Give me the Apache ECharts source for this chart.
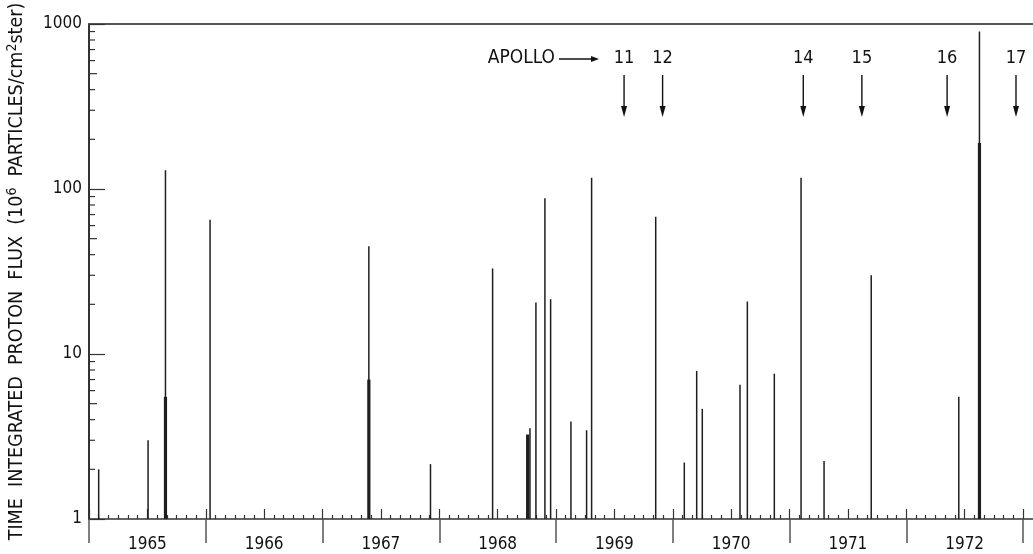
<!DOCTYPE html>
<html>
<head>
<meta charset="utf-8">
<title>Time integrated proton flux</title>
<script src="https://cdn.jsdelivr.net/npm/echarts@6/dist/echarts.min.js"></script>
<style>
  html, body { margin: 0; padding: 0; background: #fff; }
  #chart { width: 1033px; height: 554px; }
</style>
</head>
<body>
<div id="chart"></div>
<script>
// single proton events (decimal year, flux in 10^6 particles/cm2 ster)
var eventDates = [1965.083, 1965.506, 1965.655, 1966.037, 1967.397, 1967.925, 1968.457,
  1968.777, 1968.828, 1968.905, 1968.954, 1969.128, 1969.262, 1969.305, 1969.854,
  1970.099, 1970.205, 1970.253, 1970.576, 1970.639, 1970.870, 1971.099, 1971.296,
  1971.700, 1972.450, 1972.627]
var eventFlux = [2.0, 3.0, 130, 65, 45, 2.15, 33,
  3.55, 20.5, 88, 21.5, 3.9, 3.45, 117, 68,
  2.2, 7.9, 4.65, 6.5, 20.8, 7.6, 117, 2.25,
  30, 5.5, 900]
// clustered events, drawn heavy
var clusterDates = [1965.655, 1967.397, 1968.757, 1972.627]
var clusterFlux = [5.5, 7.0, 3.25, 190]

// apollo missions
var apolloMissions = ['11', '12', '14', '15', '16', '17']
var apolloDates = [1969.583, 1969.913, 1971.118, 1971.62, 1972.35, 1972.94]

var yMinorTicks = [2, 3, 4, 5, 6, 7, 8, 9, 20, 30, 40, 50, 60, 70, 80, 90,
  200, 300, 400, 500, 600, 700, 800, 900]

var FONT = "'DejaVu Sans Condensed', 'DejaVu Sans', sans-serif"
var INK = '#1e1e1e'

function spikeSeries (dates, flux, width) {
  return {
    type: 'custom',
    xAxisIndex: 0,
    yAxisIndex: 0,
    data: dates.map(function (d, i) { return [d, flux[i]] }),
    renderItem: function (params, api) {
      var p0 = api.coord([api.value(0), 1])
      var p1 = api.coord([api.value(0), api.value(1)])
      return {
        type: 'line',
        shape: { x1: p0[0], y1: p0[1], x2: p1[0], y2: p1[1] },
        style: { stroke: INK, lineWidth: width }
      }
    },
    silent: true,
    z: 3
  }
}

var chart = echarts.init(document.getElementById('chart'), null, { renderer: 'canvas' })

var option = {
  backgroundColor: '#fff',
  animation: false,
  grid: { left: 89, top: 24, right: 10, bottom: 35, outerBoundsMode: 'none', containLabel: false },
  xAxis: [{
    // year boundaries, long ticks below the axis
    type: 'value',
    position: 'bottom',
    min: 1965,
    max: 1973,
    interval: 1,
    axisLine: { show: true, lineStyle: { color: '#333', width: 1.5 } },
    axisTick: { show: true, inside: false, length: 24, lineStyle: { color: '#555', width: 1.5 } },
    axisLabel: { show: false },
    splitLine: { show: false }
  }, {
    // half years and months, ticks pointing up
    type: 'value',
    position: 'bottom',
    min: 1965,
    max: 1973,
    interval: 0.5,
    axisLine: { show: false },
    axisTick: { show: true, inside: true, length: 10, lineStyle: { color: '#333', width: 1.2 } },
    minorTick: { show: true, splitNumber: 6, length: 4, lineStyle: { color: '#333', width: 1.2 } },
    axisLabel: {
      margin: 17,
      fontFamily: FONT,
      fontSize: 17,
      color: '#111',
      formatter: function (v) {
        return (v % 1 === 0.5) ? String(Math.floor(v)) : ''
      }
    },
    splitLine: { show: false }
  }, {
    // frame top
    type: 'value',
    position: 'top',
    min: 1965,
    max: 1973,
    axisLine: { show: true, lineStyle: { color: '#555', width: 2 } },
    axisTick: { show: false },
    axisLabel: { show: false },
    splitLine: { show: false }
  }],
  yAxis: {
    type: 'log',
    logBase: 10,
    min: 1,
    max: 1000,
    name: '{a|TIME  INTEGRATED  PROTON  FLUX  (10}{s|6}{a|  PARTICLES/cm}{s|2}{a|ster)}',
    nameLocation: 'middle',
    nameRotate: 90,
    nameGap: 60,
    nameTextStyle: {
      rich: {
        a: { fontFamily: FONT, fontSize: 19.5, color: '#111', lineHeight: 24 },
        s: { fontFamily: FONT, fontSize: 14, color: '#111', verticalAlign: 'top' }
      }
    },
    axisLine: { show: true, lineStyle: { color: '#333', width: 2 } },
    axisTick: { show: true, inside: true, length: 16, lineStyle: { color: '#333', width: 1.2 } },
    axisLabel: {
      margin: 7,
      fontFamily: FONT,
      fontSize: 17,
      color: '#111',
      formatter: function (v) { return String(Math.round(v)) }
    },
    splitLine: { show: false }
  },
  graphic: [
    { type: 'line', shape: { x1: 1023, y1: 519, x2: 1033, y2: 519 }, style: { stroke: '#333', lineWidth: 1.5 } },
    { type: 'line', shape: { x1: 1023, y1: 24, x2: 1033, y2: 24 }, style: { stroke: '#555', lineWidth: 2 } },
    {
      type: 'text', x: 555, y: 58,
      style: { text: 'APOLLO', font: '19px ' + FONT, fill: '#111', align: 'right', verticalAlign: 'middle' }
    },
    { type: 'line', shape: { x1: 559, y1: 59, x2: 592, y2: 59 }, style: { stroke: '#111', lineWidth: 1.6 } },
    { type: 'polygon', shape: { points: [[591, 56], [599, 59], [591, 62]] }, style: { fill: '#111' } }
  ],
  series: [
    spikeSeries(eventDates, eventFlux, 1.5),
    spikeSeries(clusterDates, clusterFlux, 3.2),
    {
      // minor ticks on the log axis
      type: 'custom',
      xAxisIndex: 0,
      yAxisIndex: 0,
      data: yMinorTicks.map(function (v) { return [1965, v] }),
      renderItem: function (params, api) {
        var p = api.coord([api.value(0), api.value(1)])
        var v = api.value(1)
        var len = (String(v).charAt(0) === '5') ? 8 : 6
        return {
          type: 'line',
          shape: { x1: p[0], y1: p[1], x2: p[0] + len, y2: p[1] },
          style: { stroke: '#333', lineWidth: 1.2 }
        }
      },
      silent: true,
      clip: false,
      z: 4
    },
    {
      // mission markers
      type: 'custom',
      xAxisIndex: 0,
      yAxisIndex: 0,
      data: apolloDates.map(function (d) { return [d, 1000] }),
      renderItem: function (params, api) {
        var x = api.coord([api.value(0), 1000])[0]
        var top = params.coordSys.y
        return {
          type: 'group',
          children: [{
            type: 'text',
            style: {
              x: x, y: top + 34,
              text: apolloMissions[params.dataIndex],
              font: '18px ' + FONT,
              fill: '#111',
              align: 'center',
              verticalAlign: 'middle'
            }
          }, {
            type: 'line',
            shape: { x1: x, y1: top + 51, x2: x, y2: top + 84 },
            style: { stroke: '#111', lineWidth: 1.4 }
          }, {
            type: 'polygon',
            shape: { points: [[x - 3, top + 82], [x + 3, top + 82], [x, top + 93]] },
            style: { fill: '#111' }
          }]
        }
      },
      silent: true,
      clip: false,
      z: 4
    }
  ]
}

chart.setOption(option)
</script>
</body>
</html>
